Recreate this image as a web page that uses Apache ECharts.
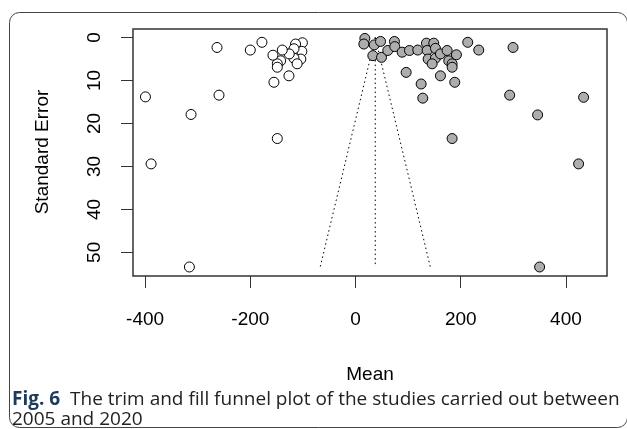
<!DOCTYPE html>
<html>
<head>
<meta charset="utf-8">
<script src="https://cdn.jsdelivr.net/npm/echarts@6.0.0/dist/echarts.min.js"></script>
<style>
html,body{margin:0;padding:0;background:#fff}
#chart{width:627px;height:429px}
</style>
</head>
<body>
<div id="chart"></div>
<script>
// observed studies (grey points)
var obsMean = [17.7, 15.8, 35.5, 47.5, 32.9, 49.4, 61.3, 74, 74.6, 88.6, 102.5, 118.3,
    134.8, 148.7, 136.1, 151.9, 138, 151.9, 145.6, 161.4, 174.1, 177.2, 183.6, 183.6,
    191.8, 213.3, 234.2, 299.4, 96.2, 124.7, 161.4, 188.6, 127.8, 293, 433.5, 346.1,
    183.6, 424, 349.9];
var obsSE = [0.2, 1.5, 1.7, 0.9, 4.2, 4.6, 3.0, 0.9, 2.1, 3.4, 3.0, 2.9,
    1.3, 1.3, 3.0, 2.5, 5.0, 4.8, 6.1, 3.8, 3.0, 5.4, 6.1, 6.9,
    4.0, 1.1, 2.9, 2.3, 8.1, 10.8, 8.9, 10.4, 14.1, 13.4, 13.9, 18.0,
    23.5, 29.4, 53.4];

// filled studies (open points)
var fillMean = [-101, -114, -102, -117, -104, -117, -111, -126, -139.2, -142.4, -148.7, -148.7,
    -157, -177.9, -200, -263.3, -126.6, -155.1, -259.5, -399.3, -312.7, -148.7, -388.6, -315.8];
var fillSE = [1.2, 1.5, 3.2, 2.6, 5.0, 4.8, 6.1, 3.8, 2.9, 5.4, 6.1, 6.9,
    4.1, 1.1, 2.9, 2.3, 8.9, 10.4, 13.4, 13.8, 17.9, 23.5, 29.4, 53.4];

// funnel
var estimate = 37.5;
var funnelSE = [0, 53.4];

var xTicks = [-400, -200, 0, 200, 400];
var yTicks = [0, 10, 20, 30, 40, 50];

function pairs(xs, ys) {
    var out = [];
    for (var i = 0; i < xs.length; i++) {
        out.push([xs[i], ys[i]]);
    }
    return out;
}

function funnelLine(k) {
    var d = [];
    for (var i = 0; i < funnelSE.length; i++) {
        d.push([estimate + k * 1.96 * funnelSE[i], funnelSE[i]]);
    }
    return {
        type: 'line',
        data: d,
        symbol: 'none',
        silent: true,
        lineStyle: {color: '#000', width: 1, type: [1.5, 3]},
        z: 1
    };
}

var chart = echarts.init(document.getElementById('chart'));
var font = 'Liberation Sans, Arial, sans-serif';

var option = {
    animation: false,
    grid: {
        left: 133, top: 29, right: 20, bottom: 153,
        show: true, borderColor: '#333', borderWidth: 1.5
    },
    xAxis: {
        type: 'value',
        min: -423, max: 478,
        axisLine: {show: false, onZero: false},
        splitLine: {show: false},
        axisTick: {customValues: xTicks, length: 12, lineStyle: {color: '#333', width: 1}},
        axisLabel: {customValues: xTicks, color: '#000', fontSize: 19, fontFamily: font, margin: 34}
    },
    yAxis: {
        type: 'value',
        inverse: true,
        min: -2, max: 55.5,
        axisLine: {show: false, onZero: false},
        splitLine: {show: false},
        axisTick: {customValues: yTicks, length: 12, lineStyle: {color: '#333', width: 1}},
        axisLabel: {customValues: yTicks, rotate: 90, color: '#000', fontSize: 19, fontFamily: font, margin: 29}
    },
    series: [
        funnelLine(-1),
        funnelLine(0),
        funnelLine(1),
        {
            type: 'scatter',
            data: pairs(obsMean, obsSE),
            symbol: 'circle',
            symbolSize: 10,
            itemStyle: {color: '#adadad', borderColor: '#000', borderWidth: 1, opacity: 1},
            z: 3
        },
        {
            type: 'scatter',
            data: pairs(fillMean, fillSE),
            symbol: 'circle',
            symbolSize: 10,
            itemStyle: {color: '#fff', borderColor: '#000', borderWidth: 1, opacity: 1},
            z: 3
        }
    ],
    graphic: [
        {
            type: 'rect',
            shape: {x: 9.5, y: 12.5, width: 618, height: 415, r: 10},
            style: {fill: 'none', stroke: '#444', lineWidth: 1},
            silent: true
        },
        {
            type: 'text',
            x: 370, y: 375,
            style: {text: 'Mean', font: '19px ' + font, fill: '#000', align: 'center', verticalAlign: 'middle'}
        },
        {
            type: 'text',
            x: 43, y: 152,
            rotation: Math.PI / 2,
            style: {text: 'Standard Error', font: '19px ' + font, fill: '#000', align: 'center', verticalAlign: 'middle'}
        },
        {
            type: 'text',
            x: 12, y: 400,
            style: {
                text: '{b|Fig. 6}  The trim and fill funnel plot of the studies carried out between',
                font: '19px Open Sans, sans-serif',
                fill: '#222',
                verticalAlign: 'middle',
                rich: {b: {fontWeight: 'bold', fontSize: 19, fontFamily: 'Open Sans', fill: '#1b3a5c'}}
            }
        },
        {
            type: 'text',
            x: 12, y: 420,
            style: {text: '2005 and 2020', font: '19px Open Sans, sans-serif', fill: '#222', verticalAlign: 'middle'}
        }
    ]
};

chart.setOption(option);
</script>
</body>
</html>
